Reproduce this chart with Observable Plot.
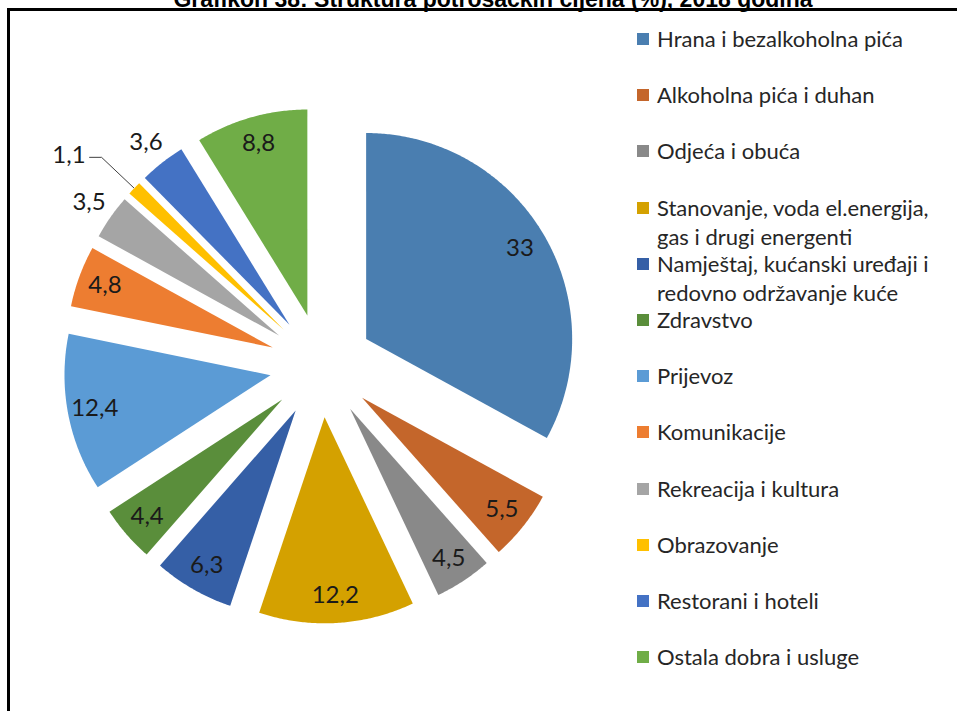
<!DOCTYPE html>
<html><head><meta charset="utf-8">
<script src="https://cdn.jsdelivr.net/npm/d3@7"></script>
<script src="https://cdn.jsdelivr.net/npm/@observablehq/plot@0.6"></script>
<style>
body{margin:0;background:#fff;overflow:hidden;width:957px;height:711px;position:relative;font-family:Lato,"Open Sans",sans-serif}
#title{position:absolute;left:0;width:986px;top:-12px;text-align:center;font:bold 23px "Liberation Sans",Arial,sans-serif;line-height:23px;white-space:nowrap;color:#000}
#frame{position:absolute;left:7px;top:8px;width:1000px;height:800px;border:3px solid #000;box-sizing:border-box}
#chart{position:absolute;left:0;top:0}
#legend{position:absolute;left:637px;top:24px;width:318px}
.item{display:flex;align-items:flex-start;height:56.2px}
.sw{width:12px;height:12px;margin-top:9px;margin-right:8px;flex:none}
.lab{font-size:22px;line-height:29px;color:#262626;width:298px}
</style></head>
<body>
<div id="title">Grafikon 38: Struktura potrošačkih cijena (%), 2018 godina</div>
<div id="frame"></div>
<div id="chart"></div>
<div id="legend"></div>
<script>
const categories = [
  "Hrana i bezalkoholna pića",
  "Alkoholna pića i duhan",
  "Odjeća i obuća",
  "Stanovanje, voda el.energija, gas i drugi energenti",
  "Namještaj, kućanski uređaji i redovno održavanje kuće",
  "Zdravstvo",
  "Prijevoz",
  "Komunikacije",
  "Rekreacija i kultura",
  "Obrazovanje",
  "Restorani i hoteli",
  "Ostala dobra i usluge"
];
const values = [33, 5.5, 4.5, 12.2, 6.3, 4.4, 12.4, 4.8, 3.5, 1.1, 3.6, 8.8];
const colors = ["#4a7eb0", "#c4662b", "#898989", "#d4a100", "#355fa6", "#5a8e3b",
                "#5b9bd5", "#ed7d31", "#a5a5a5", "#ffc000", "#4472c4", "#70ad47"];

// layout constants (pixels)
const W = 957, H = 711, CX = 321, CY = 365, R = 206;
const EXPLODE = 0.252;

const arcs = d3.pie().sort(null).value(d => d)(values);
const polys = [];
const labels = [];
const sideLabels = [];
const leader = [];
arcs.forEach((a, i) => {
  const name = categories[i];
  const mid = (a.startAngle + a.endAngle) / 2;
  const ox = EXPLODE * Math.sin(mid), oy = EXPLODE * Math.cos(mid);
  polys.push({name, x: ox, y: oy});
  const n = Math.max(2, Math.ceil((a.endAngle - a.startAngle) / (Math.PI / 360)));
  for (let k = 0; k <= n; k++) {
    const t = a.startAngle + (a.endAngle - a.startAngle) * k / n;
    polys.push({name, x: ox + Math.sin(t), y: oy + Math.cos(t)});
  }
  polys.push({name, x: ox, y: oy});
  const txt = String(values[i]).replace(".", ",");
  if (values[i] >= 4) {
    labels.push({text: txt, x: 1.12 * Math.sin(mid), y: 1.12 * Math.cos(mid)});
  } else if (values[i] >= 2) {
    labels.push({text: txt, x: 1.38 * Math.sin(mid), y: 1.38 * Math.cos(mid)});
  } else {
    const p1 = {x: 1.255 * Math.sin(mid), y: 1.255 * Math.cos(mid)};
    const p2 = {x: 1.47 * Math.sin(mid), y: 1.47 * Math.cos(mid)};
    const p3 = {x: p2.x - 12 / R, y: p2.y};
    leader.push(p1, p2, p3);
    sideLabels.push({text: txt, x: p3.x - 4 / R, y: p3.y + 2 / R});
  }
});

const chart = Plot.plot({
  width: W, height: H, margin: 0,
  x: {domain: [-CX / R, (W - CX) / R], axis: null},
  y: {domain: [-(H - CY) / R, CY / R], axis: null},
  color: {domain: categories, range: colors},
  style: {fontFamily: "Lato, 'Open Sans', sans-serif", background: "transparent"},
  marks: [
    Plot.line(polys, {x: "x", y: "y", z: "name", fill: "name", stroke: "none", curve: "linear"}),
    Plot.line(leader, {x: "x", y: "y", stroke: "#404040", strokeWidth: 1}),
    Plot.text(labels, {x: "x", y: "y", text: "text", textAnchor: "middle", fontSize: 24, fill: "#1a1a1a"}),
    Plot.text(sideLabels, {x: "x", y: "y", text: "text", textAnchor: "end", fontSize: 24, fill: "#1a1a1a"})
  ]
});
document.getElementById("chart").appendChild(chart);

const legend = document.getElementById("legend");
categories.forEach((c, i) => {
  const item = document.createElement("div");
  item.className = "item";
  const sw = document.createElement("div");
  sw.className = "sw";
  sw.style.background = colors[i];
  const lab = document.createElement("div");
  lab.className = "lab";
  lab.textContent = c;
  item.appendChild(sw);
  item.appendChild(lab);
  legend.appendChild(item);
});
</script>
</body></html>
